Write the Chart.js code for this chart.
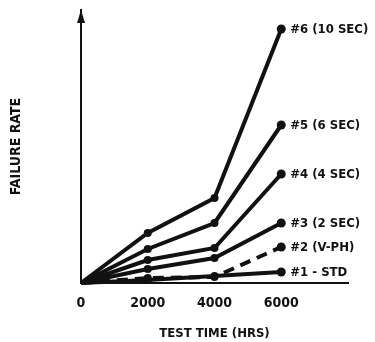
<!DOCTYPE html>
<html>
<head>
<meta charset="utf-8">
<script src="https://cdn.jsdelivr.net/npm/chart.js@4"></script>
<style>
  html, body { margin: 0; padding: 0; background: #fff; }
  #chart { display: block; background: #fff; }
</style>
</head>
<body>
<canvas id="chart" width="375" height="342"></canvas>
<script>
// test times (hrs)
const testTimes = [0, 2000, 4000, 6000];
const xTicks = [0, 2000, 4000, 6000];

// failure rate, arbitrary units
const run6 = [0, 5.0, 8.5, 25.4];
const run5 = [0, 3.4, 6.0, 15.8];
const run4 = [0, 2.3, 3.5, 10.9];
const run3 = [0, 1.4, 2.5, 6.0];
const run2 = [0, 0.5, 0.6, 3.6];
const run1 = [0, 0.3, 0.7, 1.1];

const runLabels = ['#6 (10 SEC)', '#5 (6 SEC)', '#4 (4 SEC)', '#3 (2 SEC)', '#2 (V-PH)', '#1 - STD'];
const runData = [run6, run5, run4, run3, run2, run1];

const FONT = '"DejaVu Sans Condensed", "DejaVu Sans", sans-serif';
const INK = '#111';

function toPoints(values) {
    return values.map((v, i) => ({ x: testTimes[i], y: v }));
}

const datasets = runData.map((vals, i) => ({
    label: runLabels[i],
    data: toPoints(vals),
    borderColor: INK,
    backgroundColor: INK,
    borderWidth: 4,
    borderDash: runLabels[i] === '#2 (V-PH)' ? [11, 7] : [],
    pointRadius: vals.map((v, j) => j === 0 ? 0 : (j === vals.length - 1 ? 4.5 : 4)),
    pointBorderWidth: 0,
    tension: 0,
    clip: false
}));

// arrow head on top of the y axis
const axisArrow = {
    id: 'axisArrow',
    afterDraw(chart) {
        const { ctx, chartArea } = chart;
        const x = chartArea.left, y = chartArea.top;
        ctx.save();
        ctx.fillStyle = INK;
        ctx.beginPath();
        ctx.moveTo(x, y);
        ctx.lineTo(x - 4, y + 13);
        ctx.lineTo(x + 4, y + 13);
        ctx.closePath();
        ctx.fill();
        ctx.restore();
    }
};

// run names written next to the last point of each line
const endLabels = {
    id: 'endLabels',
    afterDatasetsDraw(chart) {
        const { ctx } = chart;
        ctx.save();
        ctx.fillStyle = INK;
        ctx.font = 'bold 13px ' + FONT;
        ctx.textBaseline = 'middle';
        ctx.textAlign = 'left';
        chart.data.datasets.forEach((ds, i) => {
            const pts = chart.getDatasetMeta(i).data;
            const last = pts[pts.length - 1];
            ctx.fillText(ds.label, last.x + 9, last.y + 1);
        });
        ctx.restore();
    }
};

new Chart(document.getElementById('chart'), {
    type: 'line',
    data: { datasets: datasets },
    options: {
        responsive: false,
        devicePixelRatio: 1,
        animation: false,
        layout: { padding: { left: 0, top: 10, right: 27, bottom: 0 } },
        plugins: {
            legend: { display: false },
            tooltip: { enabled: false }
        },
        scales: {
            x: {
                type: 'linear',
                min: 0,
                max: 8000,
                afterBuildTicks: (scale) => { scale.ticks = xTicks.map(v => ({ value: v })); },
                afterFit: (scale) => { scale.height = 59; },
                grid: { display: false, drawTicks: false },
                border: { display: true, color: INK, width: 2 },
                ticks: {
                    color: INK,
                    padding: 12,
                    maxRotation: 0,
                    callback: (v) => String(v),
                    font: { family: FONT, size: 14, weight: 'bold' }
                },
                title: {
                    display: true,
                    text: 'TEST TIME (HRS)',
                    color: INK,
                    padding: { top: 0, bottom: 1 },
                    font: { family: FONT, size: 13, weight: 'bold' }
                }
            },
            y: {
                type: 'linear',
                min: 0,
                max: 27.3,
                afterFit: (scale) => { scale.width = 81; },
                grid: { display: false, drawTicks: false },
                border: { display: true, color: INK, width: 2 },
                ticks: { display: false },
                title: {
                    display: true,
                    text: 'FAILURE RATE',
                    color: INK,
                    padding: { top: 8, bottom: 0 },
                    font: { family: FONT, size: 14, weight: 'bold' }
                }
            }
        }
    },
    plugins: [axisArrow, endLabels]
});
</script>
</body>
</html>
